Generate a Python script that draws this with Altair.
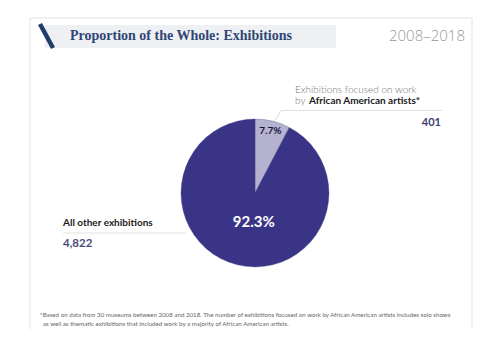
import altair as alt
import pandas as pd

# ---- data ----
categories = ["Exhibitions focused on work by African American artists", "All other exhibitions"]
counts = [401, 4822]
pct_labels = ["7.7%", "92.3%"]
order = [0, 1]

title_text = "Proportion of the Whole: Exhibitions"
period_text = "2008\u20132018"
aa_line1 = "Exhibitions focused on work"
aa_by = "by"
aa_bold = "African American artists"
aa_count = "401"
other_label = "All other exhibitions"
other_count = "4,822"
foot1 = "*Based on data from 30 museums between 2008 and 2018. The number of exhibitions focused on work by African American artists includes solo shows"
foot2 = "as well as thematic exhibitions that included work by a majority of African American artists."

df = pd.DataFrame({"cat": categories, "n": counts, "pct": pct_labels, "ord": order})

W, H = 466, 321
CX, CY, R = 247, 185, 74
FONT = "Lato"

one = pd.DataFrame({"a": [0]})
base1 = alt.Chart(one)

# panel border
panel = base1.mark_rect(fill="white", stroke="#e2e2e2", strokeWidth=1).encode(
    x=alt.value(22), x2=alt.value(464), y=alt.value(10), y2=alt.value(340))

# title banner
banner = base1.mark_rect(color="#eef0f3").encode(
    x=alt.value(37), x2=alt.value(328), y=alt.value(17), y2=alt.value(40))
slash = base1.mark_rule(color="#1f3d6c", strokeWidth=4.5, strokeCap="butt").encode(
    x=alt.value(32), y=alt.value(16), x2=alt.value(45), y2=alt.value(40))
title = base1.mark_text(text=title_text, font="Liberation Serif", fontWeight="bold", fontSize=14,
                        color="#2e4675", align="left", baseline="middle").encode(
    x=alt.value(62), y=alt.value(28))
period = base1.mark_text(text=period_text, font="Open Sans", fontWeight=300, fontSize=15,
                         color="#9a9a9a", align="right", baseline="middle").encode(
    x=alt.value(457), y=alt.value(28))

# leader / underline rules
lead1 = base1.mark_rule(color="#d0d0d0", strokeWidth=0.8).encode(
    x=alt.value(266), y=alt.value(114), x2=alt.value(273), y2=alt.value(102.5))
under1 = base1.mark_rule(color="#d8d8d8", strokeWidth=0.8).encode(
    x=alt.value(273), y=alt.value(102.5), x2=alt.value(434), y2=alt.value(102.5))
under2 = base1.mark_rule(color="#dcdcdc", strokeWidth=0.8).encode(
    x=alt.value(55), y=alt.value(225), x2=alt.value(178), y2=alt.value(225))

# pie
base = alt.Chart(df)
pie = base.mark_arc(outerRadius=R, stroke="#3a3a80", strokeWidth=0.3).encode(
    theta=alt.Theta("n:Q", stack=True),
    order=alt.Order("ord:Q"),
    color=alt.Color("cat:N", scale=alt.Scale(domain=categories, range=["#b5b2d0", "#3a3486"]), legend=None),
    x=alt.value(CX), y=alt.value(CY))
lab_small = base.transform_calculate(t="datum.ord == 0 ? datum.pct : ''").mark_text(
    radius=64, font=FONT, fontWeight="bold", fontSize=10, color="#15153a").encode(
    theta=alt.Theta("n:Q", stack=True), order=alt.Order("ord:Q"), text="t:N",
    x=alt.value(CX), y=alt.value(CY))
lab_big = base.transform_calculate(t="datum.ord == 1 ? datum.pct : ''").mark_text(
    radius=30, dx=6, font=FONT, fontWeight="bold", fontSize=15, color="white").encode(
    theta=alt.Theta("n:Q", stack=True), order=alt.Order("ord:Q"), text="t:N",
    x=alt.value(CX), y=alt.value(CY))

# annotations
t1 = base1.mark_text(text=aa_line1, font=FONT, fontWeight=300, fontSize=10, color="#777777",
                     align="left", baseline="middle").encode(x=alt.value(287), y=alt.value(82))
t2 = base1.mark_text(text=aa_by, font=FONT, fontWeight=300, fontSize=10, color="#777777",
                     align="left", baseline="middle").encode(x=alt.value(287), y=alt.value(93))
t3 = base1.mark_text(text=aa_bold + "*", font=FONT, fontWeight="bold", fontSize=10, color="#1a1a1a",
                     align="left", baseline="middle").encode(x=alt.value(301), y=alt.value(93))
t4 = base1.mark_text(text=aa_count, font=FONT, fontWeight="bold", fontSize=11, color="#3c3c6e",
                     align="right", baseline="middle").encode(x=alt.value(433), y=alt.value(115))
t5 = base1.mark_text(text=other_label, font=FONT, fontWeight="bold", fontSize=10, color="#1a1a1a",
                     align="left", baseline="middle").encode(x=alt.value(55), y=alt.value(215))
t6 = base1.mark_text(text=other_count, font=FONT, fontWeight="bold", fontSize=11.5, color="#4b4b7b",
                     align="left", baseline="middle").encode(x=alt.value(55), y=alt.value(236))
f1 = base1.mark_text(text=foot1, font=FONT, fontSize=6.2, color="#666666",
                     align="left", baseline="middle").encode(x=alt.value(32), y=alt.value(307))
f2 = base1.mark_text(text=foot2, font=FONT, fontSize=6.2, color="#666666",
                     align="left", baseline="middle").encode(x=alt.value(35), y=alt.value(316))

chart = alt.layer(panel, banner, slash, title, period, lead1, under1, under2,
                  pie, lab_small, lab_big, t1, t2, t3, t4, t5, t6, f1, f2).properties(
    width=W, height=H, padding=0, autosize=alt.AutoSizeParams(type="none"),
    background="white").configure_view(stroke=None)

chart.save("out.html", embed_options={"renderer": "svg", "actions": False})
